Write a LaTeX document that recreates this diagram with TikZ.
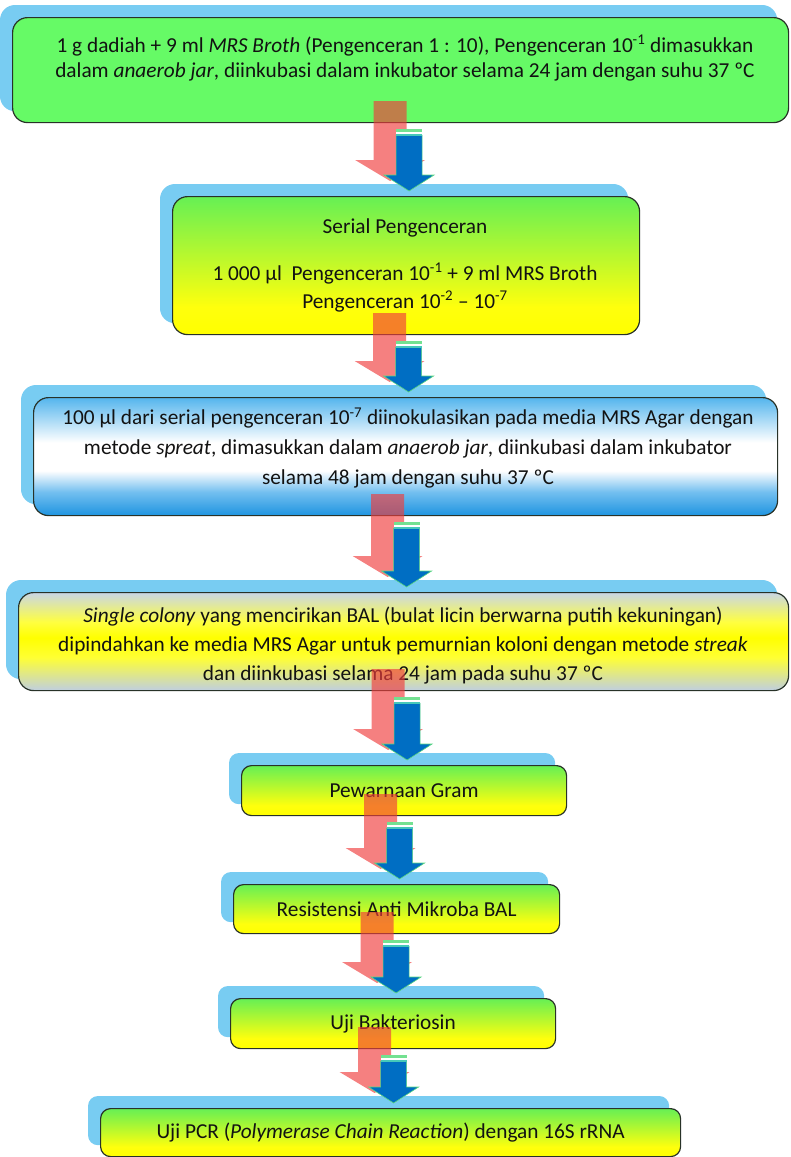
\documentclass[tikz,border=0pt]{standalone}
\usepackage{fontspec}
\setmainfont{Carlito}
\usetikzlibrary{calc,backgrounds}

% colours
\definecolor{shadowblue}{RGB}{120,204,242}
\definecolor{boxgreen}{RGB}{102,250,102}
\definecolor{boxline}{RGB}{40,50,40}
\definecolor{inktext}{RGB}{18,18,18}
\definecolor{arrowred}{RGB}{240,60,60}
\definecolor{arrowblue}{RGB}{0,110,195}
\definecolor{arrowrim}{RGB}{90,215,130}
\definecolor{stripegreen}{RGB}{115,225,145}
\definecolor{stripecyan}{RGB}{70,200,185}

% box fills
\pgfdeclareverticalshading{greenyellow}{100bp}{%
  rgb(0bp)=(1,1,0); rgb(25bp)=(1,1,0); rgb(35bp)=(1,1,0.05);
  rgb(75bp)=(0.4,0.94,0.33); rgb(100bp)=(0.4,0.94,0.33)}
\pgfdeclareverticalshading{bluewhite}{100bp}{%
  rgb(0bp)=(0.12,0.58,0.88); rgb(25bp)=(0.12,0.58,0.88);
  rgb(35bp)=(0.45,0.75,0.94); rgb(44bp)=(1,1,1); rgb(56bp)=(1,1,1);
  rgb(75bp)=(0.33,0.71,0.93); rgb(100bp)=(0.33,0.71,0.93)}
\pgfdeclareverticalshading{greyyellow}{100bp}{%
  rgb(0bp)=(0.75,0.81,0.88); rgb(25bp)=(0.75,0.81,0.88);
  rgb(42bp)=(1,1,0.2); rgb(52bp)=(1,1,0); rgb(60bp)=(1,1,0.25);
  rgb(75bp)=(0.79,0.84,0.9); rgb(100bp)=(0.79,0.84,0.9)}

\tikzset{
  stepbox/.style={draw=boxline, line width=1.2pt, rounded corners=15pt,
    anchor=north west, inner sep=0pt},
  smallbox/.style={stepbox, rounded corners=10pt},
  gybox/.style={shade, shading=greenyellow},
  txt/.style={align=center, inner sep=0pt, text=inktext},
  redarrow/.style={fill=arrowred, fill opacity=0.65},
  bluearrow/.style={fill=arrowblue, draw=arrowrim, line width=0.6pt, line join=miter},
}

% light blue backing plate, shifted up and to the left
\newcommand\boxshadow[2]{%
  \begin{pgfonlayer}{background}
    \fill[shadowblue, rounded corners=#2]
      ($(#1.north west)+(-12,-12)$) rectangle ($(#1.south east)+(-12,-12)$);
  \end{pgfonlayer}}

% pair of block arrows from box #1 down to box #2
\newcommand\flowarrows[2]{%
  \fill[redarrow] let \p1=($(#2.north)+(-16,0)$), \p2=(#1.south),
      \p3=($(#2.north)+(3,-5)$) in
    (\x1-16.5pt,\y2+22pt) -- (\x1+16.5pt,\y2+22pt) -- (\x1+16.5pt,\y3+31pt)
    -- (\x1+35pt,\y3+31pt) -- (\x1,\y3+10pt) -- (\x1-35pt,\y3+31pt)
    -- (\x1-16.5pt,\y3+31pt) -- cycle;
  \filldraw[bluearrow] let \p2=(#1.south), \p3=($(#2.north)+(3,-5)$) in
    (\x3-13pt,\y2-12pt) -- (\x3+13pt,\y2-12pt) -- (\x3+13pt,\y3+16pt)
    -- (\x3+25pt,\y3+16pt) -- (\x3,\y3) -- (\x3-25pt,\y3+16pt)
    -- (\x3-13pt,\y3+16pt) -- cycle;
  \fill[stripegreen] let \p2=(#1.south), \p3=(#2.north) in
    (\x3+3pt-13pt,\y2-6pt) rectangle (\x3+3pt+13pt,\y2-9pt);
  \fill[white] let \p2=(#1.south), \p3=(#2.north) in
    (\x3+3pt-13pt,\y2-9pt) rectangle (\x3+3pt+13pt,\y2-10.5pt);
  \fill[stripecyan] let \p2=(#1.south), \p3=(#2.north) in
    (\x3+3pt-13pt,\y2-10.5pt) rectangle (\x3+3pt+13pt,\y2-12.5pt);
}

\begin{document}
\begin{tikzpicture}[x=1pt, y=-1pt]
\useasboundingbox (0,0) rectangle (791,1157);

% boxes
\node[stepbox, fill=boxgreen, minimum width=776pt, minimum height=105pt] (b1) at (12,17) {};
\node[stepbox, gybox, minimum width=467pt, minimum height=138pt] (b2) at (172,196) {};
\node[stepbox, shade, shading=bluewhite, minimum width=744pt, minimum height=118pt] (b3) at (33,397) {};
\node[stepbox, shade, shading=greyyellow, minimum width=770pt, minimum height=98pt] (b4) at (18,592) {};
\node[smallbox, gybox, minimum width=325pt, minimum height=50pt] (b5) at (241,765) {};
\node[smallbox, gybox, minimum width=326pt, minimum height=49pt] (b6) at (233,884) {};
\node[smallbox, gybox, minimum width=325pt, minimum height=50pt] (b7) at (230,998) {};
\node[smallbox, gybox, minimum width=580pt, minimum height=48pt] (b8) at (100,1108) {};

\boxshadow{b1}{15pt}
\boxshadow{b2}{15pt}
\boxshadow{b3}{15pt}
\boxshadow{b4}{15pt}
\boxshadow{b5}{10pt}
\boxshadow{b6}{10pt}
\boxshadow{b7}{10pt}
\boxshadow{b8}{10pt}

% texts
\node[txt, font=\fontsize{21.3}{25}\selectfont] (t1) at (405,58)
  {1 g dadiah + 9 ml \textit{MRS Broth} (Pengenceran 1 : 10), Pengenceran 10\textsuperscript{-1} dimasukkan\\
   dalam \textit{anaerob jar}, diinkubasi dalam inkubator selama 24 jam dengan suhu 37 ºC};
\node[txt, font=\fontsize{21.3}{28}\selectfont] (t2) at (405,265)
  {Serial Pengenceran\\[19pt]
   1 000 µl\ \ Pengenceran 10\textsuperscript{-1} + 9 ml MRS Broth\\
   Pengenceran 10\textsuperscript{-2} – 10\textsuperscript{-7}};
\node[txt, font=\fontsize{21.3}{30}\selectfont] (t3) at (408,448)
  {100 µl dari serial pengenceran 10\textsuperscript{-7} diinokulasikan pada media MRS Agar dengan\\
   metode \textit{spreat}, dimasukkan dalam \textit{anaerob jar}, diinkubasi dalam inkubator\\
   selama 48 jam dengan suhu 37 ºC};
\node[txt, font=\fontsize{21.3}{29}\selectfont] (t4) at (403,646)
  {\textit{Single colony} yang mencirikan BAL (bulat licin berwarna putih kekuningan)\\
   dipindahkan ke media MRS Agar untuk pemurnian koloni dengan metode \textit{streak}\\
   dan diinkubasi selama 24 jam pada suhu 37 ºC};
\node[txt, font=\fontsize{21.3}{29}\selectfont] (t5) at (b5.center) {Pewarnaan Gram};
\node[txt, font=\fontsize{21.3}{29}\selectfont] (t6) at (b6.center) {Resistensi Anti Mikroba BAL};
\node[txt, font=\fontsize{21.3}{29}\selectfont] (t7) at (b7.center) {Uji Bakteriosin};
\node[txt, font=\fontsize{21.3}{29}\selectfont] (t8) at (b8.center)
  {Uji PCR (\textit{Polymerase Chain Reaction}) dengan 16S rRNA};

% connectors
\flowarrows{b1}{b2}
\flowarrows{b2}{b3}
\flowarrows{b3}{b4}
\flowarrows{b4}{b5}
\flowarrows{b5}{b6}
\flowarrows{b6}{b7}
\flowarrows{b7}{b8}
\end{tikzpicture}
\end{document}
